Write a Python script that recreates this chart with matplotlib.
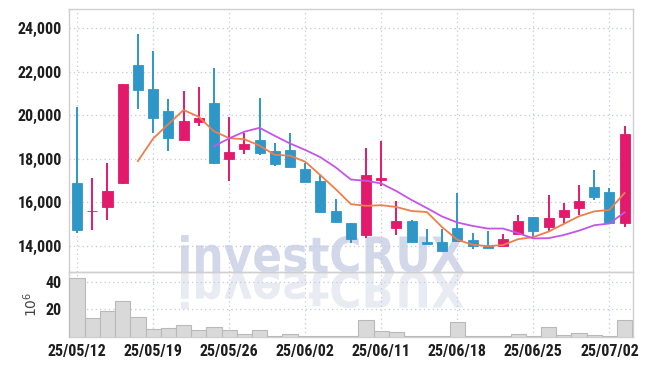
import matplotlib
matplotlib.use("Agg")
import matplotlib.pyplot as plt
import pandas as pd
from matplotlib.ticker import FuncFormatter
from matplotlib.textpath import TextPath
from matplotlib.patches import PathPatch
from matplotlib.font_manager import FontProperties
from matplotlib.transforms import Affine2D

dates = ['25/05/12', '25/05/13', '25/05/14', '25/05/15', '25/05/16',
         '25/05/19', '25/05/20', '25/05/21', '25/05/22', '25/05/23',
         '25/05/26', '25/05/27', '25/05/28', '25/05/29', '25/05/30',
         '25/06/02', '25/06/04', '25/06/05', '25/06/09', '25/06/10',
         '25/06/11', '25/06/12', '25/06/13', '25/06/16', '25/06/17',
         '25/06/18', '25/06/19', '25/06/20', '25/06/23', '25/06/24',
         '25/06/25', '25/06/26', '25/06/27', '25/06/30', '25/07/01',
         '25/07/02', '25/07/03']
opens = [16900, 15580, 15800, 16880, 22300, 21200, 20200, 18850, 19700, 20550,
         18000, 18450, 18870, 18350, 18400, 17530, 16980, 15600, 15060, 14500,
         17000, 14830, 15150, 14160, 14160, 14830, 14260, 13990, 13990, 14530,
         15340, 14880, 15340, 15750, 16690, 16460, 15060]
highs = [20350, 17100, 17800, 21450, 23700, 22950, 20750, 21100, 21300, 22150,
         19900, 19200, 20780, 18740, 19170, 17800, 17300, 16140, 15060, 18500,
         18790, 16070, 15170, 14760, 14760, 16410, 14570, 14680, 14530, 15420,
         15340, 16340, 15950, 16800, 17490, 16640, 19490]
lows = [14580, 14730, 15190, 16830, 20280, 19200, 18360, 18860, 19510, 17750,
        16980, 18220, 18170, 17670, 17640, 16950, 15540, 15100, 14110, 14340,
        16760, 14500, 14190, 14050, 13760, 14190, 13840, 13880, 13990, 14530,
        14420, 14680, 15060, 15420, 16100, 15030, 14880]
closes = [14730, 15620, 16500, 21450, 21150, 19890, 18940, 19740, 19890, 17820,
          18330, 18680, 18280, 17760, 17640, 16950, 15570, 15110, 14300, 17250,
          17100, 15150, 14190, 14070, 13780, 14220, 13990, 13890, 14300, 15140,
          14680, 15260, 15650, 16060, 16260, 15030, 19140]
volumes = [42.4, 13.7, 18.9, 25.9, 14.4, 6.0, 6.5, 8.6, 5.0, 7.2,
           5.0, 2.2, 5.0, 0.7, 2.2, 0.7, 0.7, 0.7, 0.5, 12.2,
           4.6, 3.6, 0.7, 0.7, 0.7, 10.8, 0.5, 0.5, 0.5, 2.2,
           0.7, 7.2, 1.4, 3.1, 1.4, 0.7, 12.2]  # 10^6 shares
price_ticks = [14000, 16000, 18000, 20000, 22000, 24000]

UP = '#e3196c'
DOWN = '#2f96c8'
GRID = '#c3c8de'
SPINE = '#cfcfcf'

plt.rcParams['font.family'] = ['Roboto Condensed', 'DejaVu Sans']

df = pd.DataFrame({'open': opens, 'high': highs, 'low': lows, 'close': closes, 'vol': volumes})
df['ma5'] = df['close'].rolling(5).mean()
df['ma10'] = df['close'].rolling(10).mean()
x = list(range(len(df)))

fig = plt.figure(figsize=(6.48, 3.66), dpi=100)
ax = fig.add_axes([69 / 648, 94 / 366, 564 / 648, 263 / 366])
axv = fig.add_axes([69 / 648, 29 / 366, 564 / 648, 65 / 366], sharex=ax)
for a in (ax, axv):
    a.set_facecolor('none')
    for s in a.spines.values():
        s.set_color(SPINE)
        s.set_linewidth(1.0)
    a.tick_params(length=0, labelsize=11.5, labelcolor='#1e1e1e', pad=5)
    a.grid(True, linestyle=(0, (1, 2.5)), color=GRID, linewidth=0.9)
    a.set_axisbelow(True)

# candles
for i, r in df.iterrows():
    c = UP if r['close'] >= r['open'] else DOWN
    ax.vlines(i, r['low'], r['high'], color=c, linewidth=1.4, zorder=3)
    lo, hi = min(r['open'], r['close']), max(r['open'], r['close'])
    ax.bar(i, max(hi - lo, 40), bottom=lo, width=0.66, color=c,
           edgecolor=c, linewidth=0.6, zorder=4)

ax.plot(x, df['ma5'], color='#ee7f4a', linewidth=1.3, zorder=5)
ax.plot(x, df['ma10'], color='#c555e6', linewidth=1.3, zorder=5)

ax.set_ylim(12800, 24870)
ax.set_yticks(price_ticks)
ax.yaxis.set_major_formatter(FuncFormatter(lambda v, p: f'{int(v):,}'))
for t in ax.get_yticklabels():
    t.set_fontweight('bold')
ax.tick_params(axis='x', labelbottom=False)

axv.bar(x, df['vol'], width=1.0, color='#d9d9d9', edgecolor='#b9b9b9',
        linewidth=0.8, zorder=3)
axv.set_ylim(0, 47)
axv.set_yticks([20, 40])
axv.set_xlim(-0.53, 36.55)
axv.set_xticks(x[::5])
axv.set_xticklabels(dates[::5])
for t in axv.get_xticklabels() + axv.get_yticklabels():
    t.set_fontweight('bold')
axv.tick_params(axis='x', pad=5)
axv.set_ylabel(r'$10^6$', fontsize=10, color='#444444', labelpad=4,
               family='DejaVu Serif')

# watermark with reflection
fp = FontProperties(family='DejaVu Sans', weight='bold')
tp = TextPath((0, 0), 'investCRUX', size=100, prop=fp)
ext = tp.get_extents()
s = 283 / ext.width
x0, base = 181, 94
hs = 37 / (ext.y1 * s)
main = Affine2D().translate(-ext.x0, 0).scale(s / 648, s * hs / 366) \
    .translate(x0 / 648, base / 366) + fig.transFigure
refl = Affine2D().translate(-ext.x0, 0).scale(s / 648, -s * hs / 366) \
    .translate(x0 / 648, base / 366) + fig.transFigure
fig.patches.append(PathPatch(tp, transform=main, color='#d2d8ea', lw=0, zorder=-1))
fig.patches.append(PathPatch(tp, transform=refl, color='#e9ebf3', lw=0, zorder=-1))

fig.savefig('out.png', dpi=100)
